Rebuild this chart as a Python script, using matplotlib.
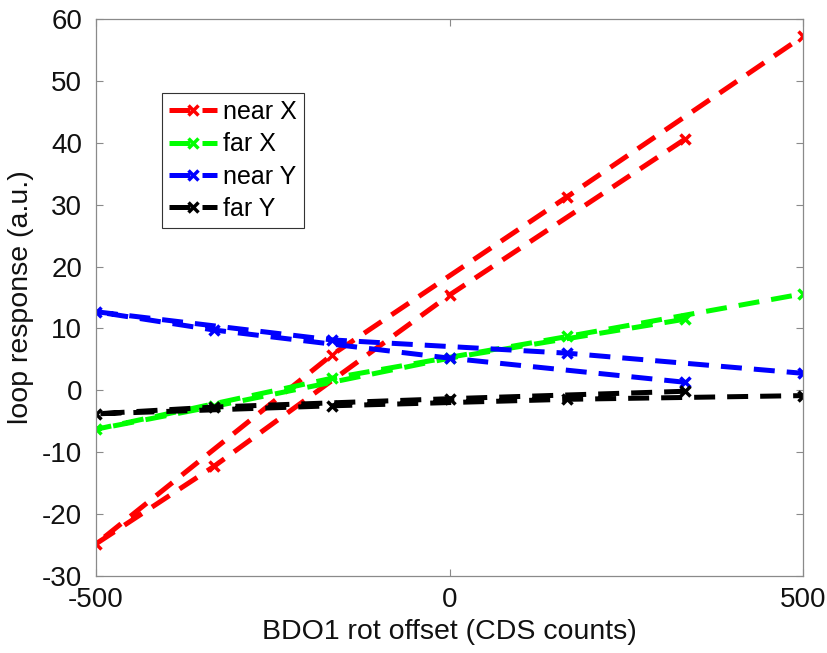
import matplotlib
matplotlib.use("Agg")
import matplotlib.pyplot as plt

# Rotation offset scan: the scan runs 333 -> 0 -> -333 -> -500 and back up
# through -167, 167 to 500, so each channel traces two interleaved sweeps.
offset = [333.3, 0.0, -333.3, -500.0, -166.7, 166.7, 500.0]

near_x = [40.6, 15.4, -12.3, -24.8, 5.7, 31.3, 57.2]
far_x = [11.5, 5.2, -2.6, -6.3, 1.95, 8.7, 15.6]
near_y = [1.3, 5.2, 9.75, 12.7, 8.15, 6.0, 2.75]
far_y = [-0.15, -1.35, -2.7, -3.8, -2.5, -1.45, -0.85]

series = [
    ("near X", near_x, (1.0, 0.0, 0.0)),
    ("far X", far_x, (0.0, 1.0, 0.0)),
    ("near Y", near_y, (0.0, 0.0, 1.0)),
    ("far Y", far_y, (0.0, 0.0, 0.0)),
]

x_ticks = [-500, 0, 500]
y_ticks = list(range(-30, 61, 10))

plt.rcParams["font.family"] = ["Liberation Sans", "DejaVu Sans"]
plt.rcParams["axes.unicode_minus"] = False

fig = plt.figure(figsize=(8.27, 6.53), dpi=100)
ax = fig.add_axes([96 / 827, 1 - 576 / 653, (803 - 96) / 827, (576 - 19) / 653])

for name, values, color in series:
    ax.plot(offset, values, color=color, linewidth=3.6,
            linestyle=(0, (4.2, 2.4)), dash_capstyle="butt",
            marker="x", markersize=7, markeredgewidth=2.5,
            label=name)

ax.set_xlim(-500, 500)
ax.set_ylim(-30, 60)
ax.set_xticks(x_ticks)
ax.set_yticks(y_ticks)

axis_gray = "#8a8a8a"
for side in ax.spines.values():
    side.set_color(axis_gray)
    side.set_linewidth(0.9)
ax.tick_params(direction="in", length=5, width=0.8, color=axis_gray,
               labelcolor="#111111", labelsize=20, pad=8,
               top=True, right=True)
ax.tick_params(axis="y", pad=10)

ax.set_xlabel("BDO1 rot offset (CDS counts)", fontsize=20.5, color="#111111",
              labelpad=4)
ax.set_ylabel("loop response (a.u.)", fontsize=20.5, color="#111111",
              labelpad=6)

leg = ax.legend(loc="upper left", bbox_to_anchor=(0.0928, 0.8677),
                borderaxespad=0, fontsize=18, frameon=True, fancybox=False,
                edgecolor="#333333", framealpha=1, numpoints=1,
                handlelength=1.9, handletextpad=0.25, labelspacing=0.33,
                borderpad=0.3)
leg.get_frame().set_linewidth(0.8)

fig.savefig("out.png", dpi=100)
